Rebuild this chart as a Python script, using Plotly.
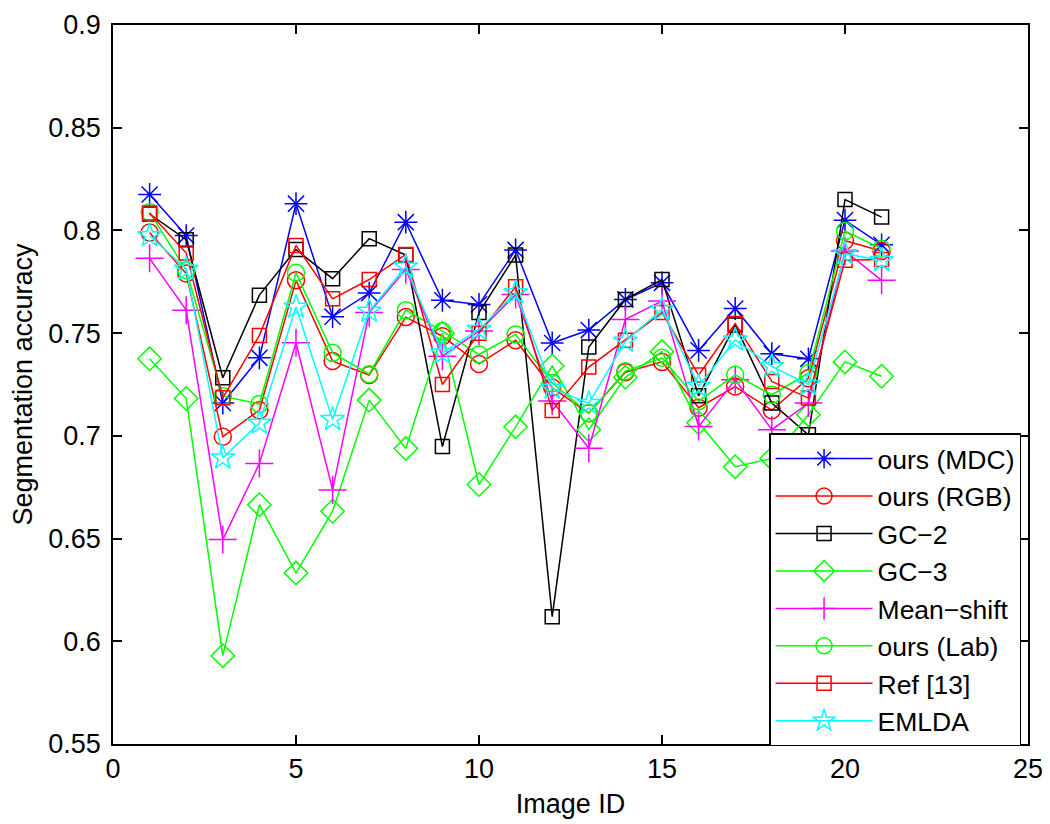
import plotly.graph_objects as go

image_ids = list(range(1, 22))

ours_mdc = [0.8175, 0.7975, 0.7160, 0.7380, 0.8130, 0.7580, 0.7695, 0.8040, 0.7660, 0.7640, 0.7905,
            0.7452, 0.7515, 0.7664, 0.7745, 0.7416, 0.7620, 0.7400, 0.7375, 0.8050, 0.7930]
ours_rgb = [0.7990, 0.7790, 0.6996, 0.7125, 0.7757, 0.7364, 0.7296, 0.7578, 0.7485, 0.7350, 0.7465,
            0.7235, 0.7110, 0.7310, 0.7360, 0.7137, 0.7240, 0.7125, 0.7280, 0.7950, 0.7900]
gc_2 = [0.8080, 0.7955, 0.7283, 0.7685, 0.7907, 0.7765, 0.7960, 0.7880, 0.6948, 0.7600, 0.7880,
        0.6120, 0.7432, 0.7664, 0.7761, 0.7195, 0.7540, 0.7160, 0.7005, 0.8150, 0.8065]
gc_3 = [0.7375, 0.7182, 0.5930, 0.6665, 0.6332, 0.6633, 0.7174, 0.6938, 0.7500, 0.6763, 0.7044,
        0.7340, 0.7030, 0.7285, 0.7410, 0.7064, 0.6850, 0.6890, 0.7103, 0.7360, 0.7290]
mean_shift = [0.7864, 0.7612, 0.6495, 0.6865, 0.7453, 0.6737, 0.7600, 0.7810, 0.7388, 0.7510, 0.7688,
              0.7170, 0.6940, 0.7567, 0.7656, 0.7045, 0.7273, 0.7030, 0.7160, 0.7900, 0.7757]
ours_lab = [0.8088, 0.7806, 0.7193, 0.7155, 0.7794, 0.7404, 0.7300, 0.7612, 0.7510, 0.7396, 0.7494,
            0.7257, 0.7110, 0.7315, 0.7380, 0.7169, 0.7297, 0.7200, 0.7305, 0.7997, 0.7911]
ref_13 = [0.8085, 0.7890, 0.7185, 0.7489, 0.7927, 0.7667, 0.7761, 0.7883, 0.7250, 0.7500, 0.7726,
          0.7124, 0.7335, 0.7466, 0.7600, 0.7296, 0.7547, 0.7265, 0.7184, 0.7855, 0.7859]
emlda = [0.7975, 0.7812, 0.6893, 0.7062, 0.7627, 0.7080, 0.7607, 0.7823, 0.7404, 0.7518, 0.7697,
         0.7232, 0.7158, 0.7461, 0.7615, 0.7242, 0.7467, 0.7338, 0.7250, 0.7887, 0.7854]

series_names = ["ours (MDC)", "ours (RGB)", "GC\u22122", "GC\u22123", "Mean\u2212shift",
                "ours (Lab)", "Ref [13]", "EMLDA"]
series_values = [ours_mdc, ours_rgb, gc_2, gc_3, mean_shift, ours_lab, ref_13, emlda]
series_colors = ["#0000FF", "#FF0000", "#000000", "#00FF00", "#FF00FF", "#00FF00", "#FF0000", "#00FFFF"]
series_symbols = ["asterisk-open", "circle-open", "square-open", "diamond-open", "cross-thin-open",
                  "circle-open", "square-open", "star-open"]
series_sizes = [19, 17, 14, 18, 20, 17, 14, 18]

y_tickvals = [0.55, 0.6, 0.65, 0.7, 0.75, 0.8, 0.85, 0.9]
y_ticktext = ["0.55", "0.6", "0.65", "0.7", "0.75", "0.8", "0.85", "0.9"]
x_tickvals = [0, 5, 10, 15, 20, 25]
x_ticktext = ["0", "5", "10", "15", "20", "25"]

FONT = "Liberation Sans, Arial, Helvetica, sans-serif"

fig = go.Figure()
for name, vals, col, sym, sz in zip(series_names, series_values, series_colors, series_symbols, series_sizes):
    fig.add_trace(go.Scatter(
        x=image_ids, y=vals, name=name, mode="lines+markers",
        line=dict(color=col, width=1.5),
        marker=dict(symbol=sym, size=sz, color=col, line=dict(color=col, width=1.5)),
    ))

axis_common = dict(
    showline=True, linecolor="black", linewidth=1.5, mirror="ticks",
    ticks="inside", ticklen=9, tickwidth=1.5, tickcolor="black",
    showgrid=False, zeroline=False, automargin=False,
    ticklabeloverflow="allow",
    tickfont=dict(family=FONT, size=27, color="black"),
)

fig.update_layout(
    width=1050, height=824,
    margin=dict(l=105, r=30, t=17, b=88),
    paper_bgcolor="white", plot_bgcolor="white",
    font=dict(family=FONT, size=27, color="black"),
    xaxis=dict(range=[0, 25], tickvals=x_tickvals, ticktext=x_ticktext,
               title=dict(text="Image ID", font=dict(family=FONT, size=27), standoff=11),
               **axis_common),
    yaxis=dict(range=[0.55, 0.9], tickvals=y_tickvals, ticktext=y_ticktext,
               ticklabelstandoff=5,
               title=dict(text="Segmentation accuracy", font=dict(family=FONT, size=27), standoff=13),
               **axis_common),
    legend=dict(
        x=0.717, y=0.432, xanchor="left", yanchor="top",
        bgcolor="white", bordercolor="black", borderwidth=1.5,
        font=dict(family=FONT, size=26.5, color="black"),
        itemwidth=97, tracegroupgap=0,
    ),
    showlegend=True,
)

fig.write_html("out.html")
